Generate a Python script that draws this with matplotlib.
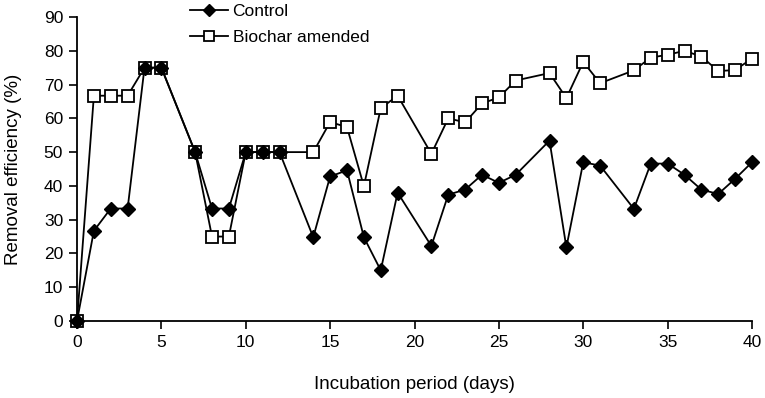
import matplotlib
matplotlib.use("Agg")
import matplotlib.pyplot as plt

# incubation days and removal efficiency (%)
days = [0, 1, 2, 3, 4, 5, 7, 8, 9, 10, 11, 12, 14, 15, 16, 17, 18, 19, 21, 22,
        23, 24, 25, 26, 28, 29, 30, 31, 33, 34, 35, 36, 37, 38, 39, 40]
control = [0, 26.7, 33.3, 33.3, 75, 75, 50, 33.3, 33.3, 50, 50, 50, 24.8, 42.8,
           44.6, 24.8, 15, 38, 22.2, 37.4, 38.9, 43.3, 40.9, 43.3, 53.4, 21.8,
           47, 46, 33.2, 46.6, 46.6, 43.3, 38.9, 37.6, 42.1, 47]
biochar = [0, 66.7, 66.7, 66.7, 75, 75, 50, 25, 25, 50, 50, 50, 50, 58.9, 57.4,
           39.9, 63, 66.7, 49.5, 60, 58.8, 64.4, 66.2, 71.2, 73.4, 66, 76.7,
           70.4, 74.2, 78, 78.8, 80, 78.3, 74, 74.3, 77.7]

xticks = [0, 5, 10, 15, 20, 25, 30, 35, 40]
yticks = [0, 10, 20, 30, 40, 50, 60, 70, 80, 90]

plt.rcParams['font.family'] = ['Liberation Sans', 'DejaVu Sans']

fig = plt.figure(figsize=(7.65, 3.98), dpi=100)
ax = fig.add_axes([77 / 765, 1 - 321 / 398, (752 - 77) / 765, (321 - 17) / 398])

ax.plot(days, control, color='black', lw=1.3, marker='D', markersize=7,
        markerfacecolor='black', markeredgecolor='black', label='Control', zorder=3)
ax.plot(days, biochar, color='black', lw=1.3, marker='s', markersize=8.5,
        markerfacecolor='white', markeredgecolor='black', markeredgewidth=1.3,
        label='Biochar amended', zorder=2)

ax.set_xlim(0, 40)
ax.set_ylim(0, 90)
ax.set_xticks(xticks)
ax.set_yticks(yticks)
ax.tick_params(axis='both', direction='out', length=6, width=1.2, labelsize=12.5,
               color='black', pad=4)
for s in ['top', 'right']:
    ax.spines[s].set_visible(False)
for s in ['left', 'bottom']:
    ax.spines[s].set_linewidth(1.3)
for m in ax.lines:
    m.set_clip_on(False)

ax.set_xlabel('Incubation period (days)', fontsize=13.5, labelpad=19)
ax.set_ylabel('Removal efficiency (%)', fontsize=13.5, labelpad=16)

leg = fig.legend(loc='upper left', bbox_to_anchor=(190 / 765, 0.99), frameon=False,
                 handlelength=2.2, handletextpad=0.25, labelspacing=0.6,
                 borderpad=0, borderaxespad=0, markerscale=0.9,
                 prop={'size': 12.5})

fig.savefig('out.png', dpi=100)
